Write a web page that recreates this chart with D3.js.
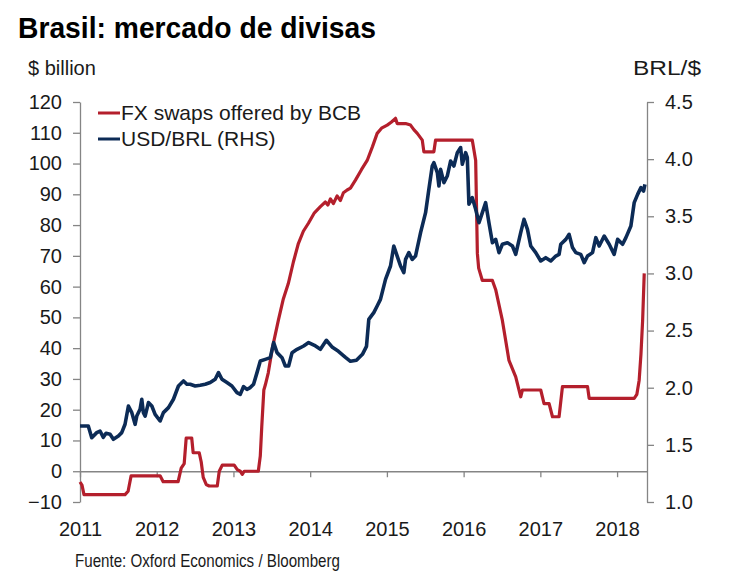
<!DOCTYPE html>
<html><head><meta charset="utf-8">
<script src="https://cdn.jsdelivr.net/npm/d3@7"></script>
<style>
body{margin:0;background:#fff;}
text{font-family:"Liberation Sans",Arial,Helvetica,sans-serif;fill:#1a1a1a;}
</style></head><body>
<svg id="chart" width="732" height="587"></svg>
<script>
const titleText = "Brasil: mercado de divisas";
const leftUnit = "$ billion";
const rightUnit = "BRL/$";
const sourceText = "Fuente: Oxford Economics / Bloomberg";
const seriesNames = ["FX swaps offered by BCB", "USD/BRL (RHS)"];
const seriesColors = ["#b41f2c", "#0c2b56"];

const yearTicks = [2011, 2012, 2013, 2014, 2015, 2016, 2017, 2018];
const leftTicks = [-10, 0, 10, 20, 30, 40, 50, 60, 70, 80, 90, 100, 110, 120];
const rightTicks = [1.0, 1.5, 2.0, 2.5, 3.0, 3.5, 4.0, 4.5];

const fxYears = [2011.000,2011.026,2011.052,2011.587,2011.627,2011.666,2012.044,2012.084,2012.279,2012.319,2012.358,2012.384,2012.456,2012.475,2012.554,2012.580,2012.606,2012.645,2012.684,2012.789,2012.815,2012.854,2013.010,2013.050,2013.089,2013.115,2013.141,2013.324,2013.350,2013.369,2013.396,2013.415,2013.454,2013.507,2013.585,2013.650,2013.715,2013.781,2013.846,2013.911,2013.977,2014.055,2014.133,2014.198,2014.230,2014.264,2014.303,2014.351,2014.394,2014.433,2014.482,2014.525,2014.590,2014.668,2014.743,2014.812,2014.873,2014.930,2015.004,2015.060,2015.112,2015.134,2015.243,2015.308,2015.351,2015.396,2015.461,2015.482,2015.612,2015.634,2016.113,2016.137,2016.157,2016.179,2016.196,2016.244,2016.375,2016.418,2016.505,2016.591,2016.679,2016.744,2016.766,2017.005,2017.048,2017.114,2017.158,2017.244,2017.288,2017.615,2017.636,2018.223,2018.258,2018.288,2018.311,2018.333,2018.354];
const fxValues = [-3.5,-4.5,-7.6,-7.6,-6.5,-1.5,-1.5,-3.4,-3.4,1,2.5,10.8,10.8,6,6,3,-2,-4.3,-4.8,-4.8,0,2,2,0.5,0,-1,0,0,5,14.5,26.4,28,32,40,49,56,61,68,74,78,80.6,84,86,87.5,86.5,88.5,87,89.5,88,90.5,91.4,92,94.6,98,101,105.5,109.8,111.5,112.5,113.5,114.7,113,113,112.5,111,109.8,107.6,103.8,103.8,107.6,107.6,104,101,70.8,66,62,62,59,49,36,30.7,24.2,26.4,26.4,22,22,17.7,17.7,27.5,27.5,23.7,23.7,25,29.6,38,49,64.3];

const usdYears = [2011.000,2011.108,2011.153,2011.218,2011.261,2011.304,2011.339,2011.392,2011.435,2011.500,2011.544,2011.587,2011.631,2011.675,2011.718,2011.740,2011.783,2011.805,2011.826,2011.849,2011.892,2011.936,2011.979,2012.044,2012.087,2012.153,2012.218,2012.283,2012.349,2012.393,2012.436,2012.501,2012.567,2012.632,2012.697,2012.762,2012.805,2012.850,2012.915,2012.980,2013.046,2013.089,2013.132,2013.176,2013.219,2013.262,2013.307,2013.350,2013.415,2013.480,2013.524,2013.568,2013.633,2013.676,2013.719,2013.764,2013.829,2013.915,2013.980,2014.055,2014.133,2014.211,2014.290,2014.368,2014.460,2014.525,2014.603,2014.681,2014.734,2014.764,2014.829,2014.873,2014.916,2014.982,2015.047,2015.090,2015.134,2015.178,2015.221,2015.243,2015.286,2015.330,2015.373,2015.439,2015.504,2015.547,2015.591,2015.612,2015.657,2015.678,2015.700,2015.743,2015.787,2015.830,2015.873,2015.918,2015.961,2015.983,2016.026,2016.048,2016.069,2016.113,2016.157,2016.200,2016.244,2016.287,2016.330,2016.375,2016.418,2016.461,2016.505,2016.571,2016.636,2016.679,2016.744,2016.787,2016.832,2016.875,2016.940,2017.005,2017.070,2017.136,2017.201,2017.244,2017.266,2017.332,2017.375,2017.419,2017.462,2017.527,2017.571,2017.615,2017.680,2017.723,2017.767,2017.832,2017.897,2017.962,2018.007,2018.072,2018.115,2018.180,2018.223,2018.268,2018.311,2018.346,2018.363];
const usdValues = [1.665,1.665,1.563,1.607,1.621,1.566,1.601,1.592,1.549,1.577,1.607,1.680,1.840,1.782,1.680,1.752,1.811,1.899,1.782,1.752,1.870,1.840,1.767,1.709,1.782,1.826,1.899,2.015,2.059,2.030,2.030,2.015,2.021,2.030,2.045,2.074,2.132,2.074,2.045,2.015,1.957,1.942,2.010,1.986,2.001,2.030,2.132,2.234,2.248,2.263,2.395,2.307,2.263,2.190,2.190,2.307,2.336,2.365,2.395,2.371,2.336,2.415,2.353,2.318,2.266,2.231,2.240,2.292,2.362,2.598,2.657,2.715,2.773,2.948,3.065,3.240,3.152,3.065,3.007,3.123,3.182,3.123,3.152,3.357,3.532,3.736,3.940,3.969,3.882,3.765,3.911,3.794,3.852,3.983,3.940,4.057,4.101,3.955,4.057,4.013,3.605,3.663,3.561,3.444,3.532,3.619,3.444,3.269,3.298,3.182,3.255,3.269,3.240,3.167,3.357,3.473,3.386,3.240,3.182,3.109,3.138,3.109,3.152,3.167,3.255,3.298,3.342,3.226,3.182,3.167,3.094,3.152,3.182,3.313,3.240,3.327,3.255,3.167,3.298,3.255,3.313,3.415,3.619,3.692,3.751,3.721,3.780];

const svg = d3.select("#chart");
const axisColor = "#858585";

const x = d3.scaleLinear().domain([2011, 2018.39]).range([80, 647]);
const yL = d3.scaleLinear().domain([-10, 120]).range([502, 102]);
const yR = d3.scaleLinear().domain([1, 4.5]).range([502, 102]);

// Title and unit labels
svg.append("text").attr("x", 18).attr("y", 38)
  .attr("font-size", 30).attr("font-weight", "bold").style("fill", "#000")
  .attr("textLength", 358).attr("lengthAdjust", "spacingAndGlyphs")
  .text(titleText);
svg.append("text").attr("x", 28).attr("y", 75).attr("font-size", 20).text(leftUnit);
svg.append("text").attr("x", 633).attr("y", 75).attr("font-size", 20)
  .attr("textLength", 68).attr("lengthAdjust", "spacingAndGlyphs").text(rightUnit);

// Left axis
const gL = svg.append("g").attr("transform", "translate(80,0)")
  .call(d3.axisLeft(yL).tickValues(leftTicks).tickSize(7).tickSizeOuter(0).tickPadding(11).tickFormat(d3.format("d")));
// Right axis
const gR = svg.append("g").attr("transform", "translate(647,0)")
  .call(d3.axisRight(yR).tickValues(rightTicks).tickSize(7).tickSizeOuter(0).tickPadding(11).tickFormat(d3.format(".1f")));
// Zero line with year ticks
const gZ = svg.append("g").attr("transform", `translate(0,${yL(0)})`)
  .call(d3.axisBottom(x).tickValues(yearTicks).tickSize(6).tickSizeOuter(0).tickFormat(""));
// Year labels
const gX = svg.append("g").attr("transform", "translate(0,522)")
  .call(d3.axisBottom(x).tickValues(yearTicks).tickSize(0).tickPadding(0).tickFormat(d3.format("d")));
gX.select(".domain").remove();

[gL, gR, gZ].forEach(g => {
  g.selectAll("path.domain").attr("stroke", axisColor).attr("stroke-width", 1.3);
  g.selectAll(".tick line").attr("stroke", axisColor).attr("stroke-width", 1.3);
});
[gL, gR, gX].forEach(g => {
  g.selectAll(".tick text").attr("font-size", 20)
    .attr("font-family", '"Liberation Sans",Arial,sans-serif').attr("fill", "#1a1a1a");
});

// Lines
const fxLine = d3.line().x((d, i) => x(fxYears[i])).y(d => yL(d));
const usdLine = d3.line().x((d, i) => x(usdYears[i])).y(d => yR(d));

svg.append("path").datum(fxValues).attr("d", fxLine)
  .attr("fill", "none").attr("stroke", seriesColors[0]).attr("stroke-width", 3.2)
  .attr("stroke-linejoin", "round");
svg.append("path").datum(usdValues).attr("d", usdLine)
  .attr("fill", "none").attr("stroke", seriesColors[1]).attr("stroke-width", 3.6)
  .attr("stroke-linejoin", "round");

// Legend
const legendY = [113, 139];
seriesNames.forEach((name, i) => {
  svg.append("line").attr("x1", 98).attr("x2", 120).attr("y1", legendY[i]).attr("y2", legendY[i])
    .attr("stroke", seriesColors[i]).attr("stroke-width", 3);
  svg.append("text").attr("x", 121).attr("y", legendY[i] + 7).attr("font-size", 21).text(name);
});

// Source
svg.append("text").attr("x", 75).attr("y", 567).attr("font-size", 19)
  .style("font-family", '"Liberation Sans Narrow","Arial Narrow","Liberation Sans",Arial,sans-serif')
  .attr("textLength", 265).attr("lengthAdjust", "spacingAndGlyphs")
  .text(sourceText);
</script>
</body></html>
